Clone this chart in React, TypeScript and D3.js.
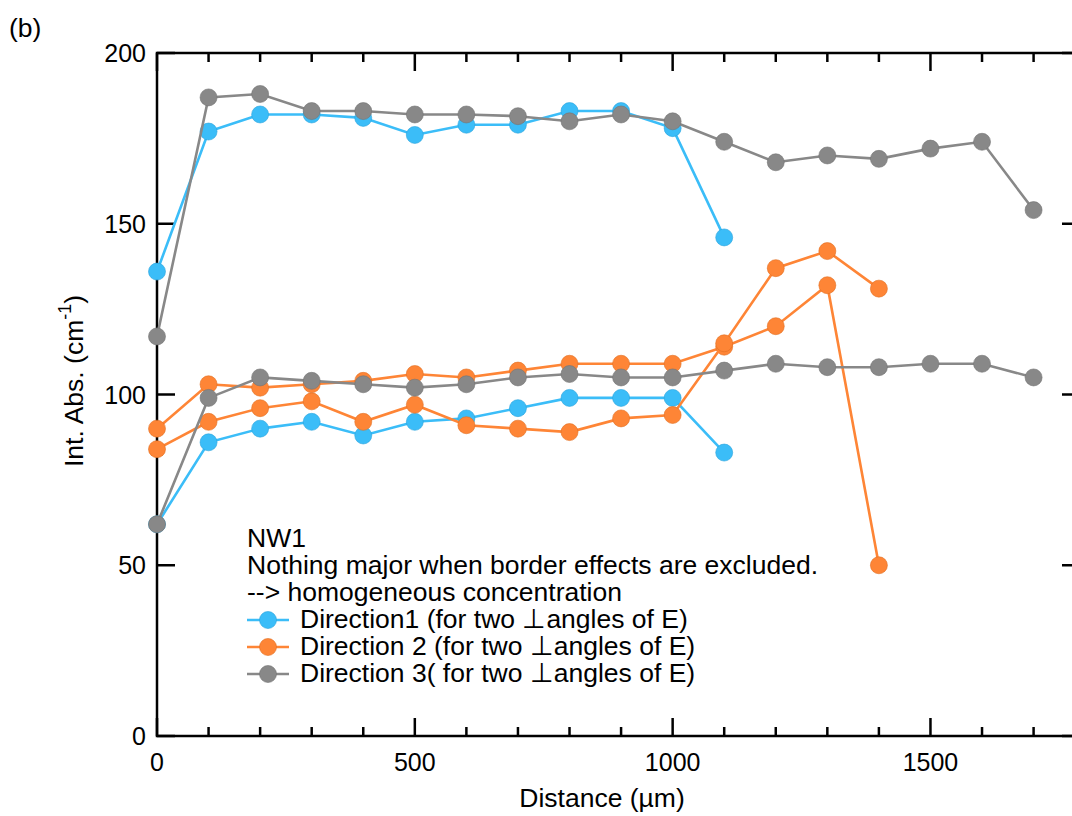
import React from "react";
import * as d3 from "d3";

const distance = [0, 100, 200, 300, 400, 500, 600, 700, 800, 900, 1000, 1100, 1200, 1300, 1400, 1500, 1600, 1700];
const dir1a = [136, 177, 182, 182, 181, 176, 179, 179, 183, 183, 178, 146];
const dir1b = [62, 86, 90, 92, 88, 92, 93, 96, 99, 99, 99, 83];
const dir2a = [90, 103, 102, 103, 104, 106, 105, 107, 109, 109, 109, 114, 120, 132, 50];
const dir2b = [84, 92, 96, 98, 92, 97, 91, 90, 89, 93, 94, 115, 137, 142, 131];
const dir3a = [117, 187, 188, 183, 183, 182, 182, 181.5, 180, 182, 180, 174, 168, 170, 169, 172, 174, 154];
const dir3b = [62, 99, 105, 104, 103, 102, 103, 105, 106, 105, 105, 107, 109, 108, 108, 109, 109, 105];

const xMajor = [0, 500, 1000, 1500];
const xMinor = d3.range(0, 1800, 100);
const yMajor = [0, 50, 100, 150, 200];

const legendLines = ["NW1", "Nothing major when border effects are excluded.", "--> homogeneous concentration"];
const seriesNames = [
  "Direction1 (for two \u22a5angles of E)",
  "Direction 2 (for two \u22a5angles of E)",
  "Direction 3( for two \u22a5angles of E)",
];
const colors = ["#3bbdf8", "#fe8536", "#888888"];
const edgeColors = ["#2aa3dc", "#e06e22", "#737373"];

const FONT = "'Liberation Sans', Arial, Helvetica, sans-serif";

export default function App() {
  const W = 1072, H = 816;
  const x = d3.scaleLinear().domain([0, 1790]).range([157, 1080]);
  const y = d3.scaleLinear().domain([0, 200]).range([736, 53]);
  const line = d3.line<[number, number]>().x(d => x(d[0])).y(d => y(d[1]));

  const traces = [
    { vals: dir1a, c: 0 }, { vals: dir1b, c: 0 },
    { vals: dir2a, c: 1 }, { vals: dir2b, c: 1 },
    { vals: dir3a, c: 2 }, { vals: dir3b, c: 2 },
  ];

  const x0 = x.range()[0], x1 = x.range()[1];
  const y0 = y.range()[0], y1 = y.range()[1];
  const fs = 25;
  const ft = 26.5;

  return (
    <svg width={W} height={H} style={{ position: "absolute", left: 0, top: 0, background: "#fff" }} fontFamily={FONT}>
      <rect x={0} y={0} width={W} height={H} fill="#fff" />
      <text x={9} y={37} fontSize={ft}>(b)</text>

      {/* frame */}
      <rect x={x0} y={y1} width={x1 - x0} height={y0 - y1} fill="none" stroke="#000" strokeWidth={2.5} />

      {/* x ticks */}
      {xMinor.map(v => {
        const major = xMajor.includes(v);
        const len = major ? 18 : 9;
        return (
          <g key={"xt" + v}>
            <line x1={x(v)} x2={x(v)} y1={y0} y2={y0 - len} stroke="#000" strokeWidth={2.5} />
            <line x1={x(v)} x2={x(v)} y1={y1} y2={y1 + len} stroke="#000" strokeWidth={2.5} />
          </g>
        );
      })}
      {xMajor.map(v => (
        <text key={"xl" + v} x={x(v)} y={771} fontSize={fs} textAnchor="middle">{v}</text>
      ))}

      {/* y ticks */}
      {yMajor.map(v => (
        <g key={"yt" + v}>
          <line x1={x0} x2={x0 + 18} y1={y(v)} y2={y(v)} stroke="#000" strokeWidth={2.5} />
          <line x1={x1} x2={x1 - 18} y1={y(v)} y2={y(v)} stroke="#000" strokeWidth={2.5} />
          <text x={x0 - 11} y={y(v) + 9} fontSize={fs} textAnchor="end">{v}</text>
        </g>
      ))}

      {/* axis titles */}
      <text x={602} y={807} fontSize={ft} textAnchor="middle">Distance (µm)</text>
      <text transform="translate(83,381) rotate(-90)" fontSize={ft} textAnchor="middle">
        Int. Abs. (cm<tspan fontSize={18} dy={-12}>-1</tspan><tspan dy={12}>)</tspan>
      </text>

      {/* data */}
      {traces.map((t, i) => {
        const pts: [number, number][] = t.vals.map((v, j) => [distance[j], v]);
        return (
          <g key={"tr" + i}>
            <path d={line(pts) || ""} fill="none" stroke={colors[t.c]} strokeWidth={2.6} />
            {pts.map((p, j) => (
              <circle key={j} cx={x(p[0])} cy={y(p[1])} r={8.5} fill={colors[t.c]} stroke={edgeColors[t.c]} strokeWidth={0.6} />
            ))}
          </g>
        );
      })}

      {/* legend */}
      {legendLines.map((s, i) => (
        <text key={"lg" + i} x={247} y={547 + i * 27} fontSize={ft}>{s}</text>
      ))}
      {seriesNames.map((s, i) => {
        const yy = 628 + i * 27 - 8;
        return (
          <g key={"ls" + i}>
            <line x1={247} x2={289} y1={yy} y2={yy} stroke={colors[i]} strokeWidth={2.6} />
            <circle cx={268} cy={yy} r={8.5} fill={colors[i]} stroke={edgeColors[i]} strokeWidth={0.6} />
            <text x={300} y={628 + i * 27} fontSize={ft}>{s}</text>
          </g>
        );
      })}
    </svg>
  );
}
